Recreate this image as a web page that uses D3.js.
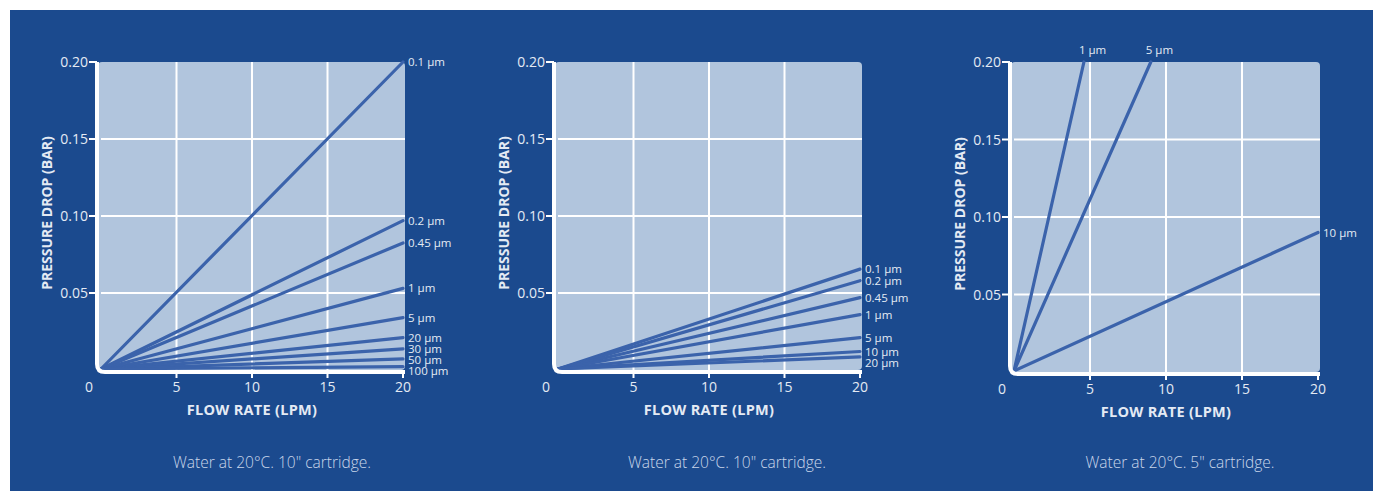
<!DOCTYPE html>
<html>
<head>
<meta charset="utf-8">
<script src="https://cdn.jsdelivr.net/npm/d3@7"></script>
<style>
  html, body { margin: 0; padding: 0; background: #ffffff; }
  svg { display: block; }
  text { font-family: "Open Sans", "Noto Sans", sans-serif; }
</style>
</head>
<body>
<svg id="chart"></svg>
<script>
// Data
const flowTicks = [5, 10, 15, 20];
const pressureTicks = [0.05, 0.10, 0.15, 0.20];

const c1Labels = ['0.1 µm', '0.2 µm', '0.45 µm', '1 µm', '5 µm', '20 µm', '30 µm', '50 µm', '100 µm'];
const c1EndFlow = [20, 20, 20, 20, 20, 20, 20, 20, 20];
const c1EndPressure = [0.200, 0.097, 0.0825, 0.053, 0.034, 0.021, 0.0137, 0.0072, 0.0022];
const c1Caption = 'Water at 20°C. 10" cartridge.';

const c2Labels = ['0.1 µm', '0.2 µm', '0.45 µm', '1 µm', '5 µm', '10 µm', '20 µm'];
const c2EndFlow = [20, 20, 20, 20, 20, 20, 20];
const c2EndPressure = [0.0655, 0.058, 0.047, 0.036, 0.021, 0.012, 0.0085];
const c2Caption = 'Water at 20°C. 10" cartridge.';

const c3Labels = ['1 µm', '5 µm', '10 µm'];
const c3EndFlow = [4.6, 9.0, 20];
const c3EndPressure = [0.20, 0.20, 0.090];
const c3Caption = 'Water at 20°C. 5" cartridge.';

window.addEventListener('DOMContentLoaded', e => {
    let width = 1373;
    let height = 491;

    let svg = d3.select('#chart')
        .attr('width', width)
        .attr('height', height);

    // blue panel
    svg.append('rect')
        .attr('x', 10).attr('y', 10)
        .attr('width', width - 10).attr('height', height - 10)
        .attr('fill', '#1b4a8e');

    const panels = [
        {labels: c1Labels, flow: c1EndFlow, pressure: c1EndPressure, caption: c1Caption, x0: 101, x1: 403, y0: 370, y1: 62, cap: 272},
        {labels: c2Labels, flow: c2EndFlow, pressure: c2EndPressure, caption: c2Caption, x0: 558, x1: 860, y0: 370, y1: 62, cap: 727},
        {labels: c3Labels, flow: c3EndFlow, pressure: c3EndPressure, caption: c3Caption, x0: 1014, x1: 1318, y0: 372, y1: 62, cap: 1180}
    ];

    const lineColor = '#3b63ab';
    const textColor = '#e4eaf4';

    let drawPanel = (p) => {
        let xScale = d3.scaleLinear().domain([0, 20]).range([p.x0, p.x1]);
        let yScale = d3.scaleLinear().domain([0, 0.2]).range([p.y0, p.y1]);
        let g = svg.append('g');

        // plot background, rounded on the right
        let bx = xScale(0) - 3, by = yScale(0.2), bw = xScale(20) + 2 - bx, bh = yScale(0) - by;
        g.append('rect')
            .attr('x', bx).attr('y', by)
            .attr('width', bw).attr('height', bh)
            .attr('rx', 4)
            .attr('fill', '#b1c5dd');

        // grid
        g.selectAll('.vgrid')
            .data(flowTicks.slice(0, 3))
            .enter()
            .append('line')
            .attr('x1', d => xScale(d)).attr('x2', d => xScale(d))
            .attr('y1', yScale(0.2)).attr('y2', yScale(0))
            .attr('stroke', '#ffffff').attr('stroke-width', 2);
        g.selectAll('.hgrid')
            .data(pressureTicks.slice(0, 3))
            .enter()
            .append('line')
            .attr('x1', xScale(0)).attr('x2', xScale(20) + 2)
            .attr('y1', d => yScale(d)).attr('y2', d => yScale(d))
            .attr('stroke', '#ffffff').attr('stroke-width', 2);

        // series lines
        let series = p.labels.map((label, i) => ({label: label, flow: p.flow[i], pressure: p.pressure[i]}));
        g.selectAll('.series')
            .data(series)
            .enter()
            .append('line')
            .attr('x1', xScale(0)).attr('y1', yScale(0) - 1)
            .attr('x2', d => xScale(d.flow)).attr('y2', d => yScale(d.pressure))
            .attr('stroke', lineColor)
            .attr('stroke-width', 3.2)
            .attr('stroke-linecap', 'round');

        // white L axis with rounded corner
        let ax = xScale(0) - 4, ay = yScale(0) + 2, r = 8;
        g.append('path')
            .attr('d', 'M' + ax + ',' + yScale(0.2) + ' L' + ax + ',' + (ay - r) +
                ' Q' + ax + ',' + ay + ' ' + (ax + r) + ',' + ay +
                ' L' + (xScale(20) + 2) + ',' + ay)
            .attr('fill', 'none')
            .attr('stroke', '#ffffff')
            .attr('stroke-width', 4);

        // y ticks
        g.selectAll('.ytick')
            .data(pressureTicks)
            .enter()
            .append('line')
            .attr('x1', ax - 8).attr('x2', ax)
            .attr('y1', d => yScale(d)).attr('y2', d => yScale(d))
            .attr('stroke', '#ffffff').attr('stroke-width', 2);
        g.selectAll('.ylabel')
            .data(pressureTicks)
            .enter()
            .append('text')
            .attr('x', ax - 9)
            .attr('y', d => yScale(d) + 5)
            .attr('text-anchor', 'end')
            .attr('font-size', 14)
            .attr('fill', textColor)
            .text(d => d3.format('.2f')(d));

        // x ticks
        g.selectAll('.xtick')
            .data(flowTicks)
            .enter()
            .append('line')
            .attr('x1', d => xScale(d)).attr('x2', d => xScale(d))
            .attr('y1', ay).attr('y2', ay + 6)
            .attr('stroke', '#ffffff').attr('stroke-width', 2);
        g.selectAll('.xlabel')
            .data(flowTicks)
            .enter()
            .append('text')
            .attr('x', d => xScale(d))
            .attr('y', ay + 20)
            .attr('text-anchor', 'middle')
            .attr('font-size', 14)
            .attr('fill', textColor)
            .text(d => d);
        g.append('text')
            .attr('x', ax - 8).attr('y', ay + 20)
            .attr('text-anchor', 'middle')
            .attr('font-size', 14)
            .attr('fill', textColor)
            .text('0');

        // axis titles
        g.append('text')
            .attr('x', (xScale(0) + xScale(20)) / 2)
            .attr('y', ay + 43)
            .attr('text-anchor', 'middle')
            .attr('font-size', 14.5)
            .attr('font-weight', 'bold')
            .attr('letter-spacing', 0.3)
            .attr('fill', textColor)
            .text('FLOW RATE (LPM)');
        g.append('text')
            .attr('transform', 'translate(' + (ax - 45) + ',' + (yScale(0.1) - 3) + ') rotate(-90)')
            .attr('text-anchor', 'middle')
            .attr('font-size', 14)
            .attr('font-weight', 'bold')
            .attr('fill', textColor)
            .text('PRESSURE DROP (BAR)');

        // series labels: right-side ones stacked with a min gap, top ones above the end
        let right = series.filter(d => d.flow >= 20)
            .map(d => ({label: d.label, y: yScale(d.pressure)}))
            .sort((a, b) => a.y - b.y);
        for (let i = 1; i < right.length; i++) {
            if (right[i].y < right[i - 1].y + 11) right[i].y = right[i - 1].y + 11;
        }
        g.selectAll('.rlabel')
            .data(right)
            .enter()
            .append('text')
            .attr('x', xScale(20) + 5)
            .attr('y', d => d.y + 4)
            .attr('font-size', 11.5)
            .attr('fill', textColor)
            .text(d => d.label);
        g.selectAll('.tlabel')
            .data(series.filter(d => d.flow < 20))
            .enter()
            .append('text')
            .attr('x', d => xScale(d.flow) - 5)
            .attr('y', yScale(0.2) - 8)
            .attr('font-size', 11.5)
            .attr('fill', textColor)
            .text(d => d.label);

        // caption
        g.append('text')
            .attr('x', p.cap).attr('y', 468)
            .attr('text-anchor', 'middle')
            .attr('font-size', 15.5)
            .attr('font-weight', 300)
            .attr('fill', '#c9d6ea')
            .text(p.caption);
    }

    panels.forEach(drawPanel);
})
</script>
</body>
</html>
